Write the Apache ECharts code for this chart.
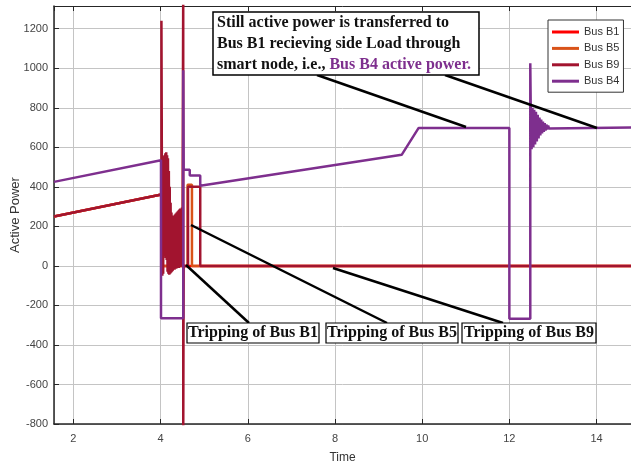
<!DOCTYPE html>
<html>
<head>
<meta charset="utf-8">
<script src="https://cdn.jsdelivr.net/npm/echarts@6/dist/echarts.min.js"></script>
<style>html,body{margin:0;padding:0;background:#fff;}#c{width:631px;height:467px;}</style>
</head>
<body>
<div id="c"></div>
<script>
// ---- data ----
var seriesNames = ['Bus B1', 'Bus B5', 'Bus B9', 'Bus B4'];
var yTicks = [-800, -600, -400, -200, 0, 200, 400, 600, 800, 1000, 1200];
var xTicks = [2, 4, 6, 8, 10, 12, 14];

var b1T = [1.556, 4.02, 4.03, 14.79];
var b1V = [250, 361, 0, 0];

var b5T = [1.556, 4.02, 4.03, 4.62, 4.62, 4.72, 4.72, 14.79];
var b5V = [250, 361, 0, 0, 410, 410, 0, 0];

var b9T = [1.556, 4.02, 4.02,
  4.03, 4.04, 4.05, 4.06, 4.07, 4.08, 4.09, 4.10, 4.11, 4.12, 4.13, 4.14, 4.15, 4.16,
  4.17, 4.18, 4.19, 4.20, 4.21, 4.22, 4.23, 4.24, 4.25, 4.26, 4.27, 4.28, 4.29, 4.30,
  4.31, 4.32, 4.33, 4.34, 4.35, 4.36, 4.37, 4.38, 4.39, 4.40, 4.41, 4.42, 4.43, 4.44,
  4.45, 4.46, 4.47, 4.48, 4.49, 4.50,
  4.52, 4.52, 4.53, 4.63, 4.63, 4.91, 4.91, 14.79];
var b9V = [250, 361, 1240,
  530, -50, 545, -40, 555, 60, 560, 50, 570, 40, 575, 30, 560, -30,
  545, -40, 480, -45, 400, -40, 320, -35, 270, -30, 255, -25, 250, -20,
  255, -20, 260, -15, 265, -15, 270, -10, 275, -10, 280, -10, 285, -5,
  290, -5, 290, 0, 295, 0,
  1400, -900, 0, 0, 400, 400, 0, 0];

var b4T = [1.556, 4.01, 4.01, 4.52, 4.52, 4.53, 4.67, 4.67, 4.91, 4.91, 9.53, 9.92,
  12.00, 12.00, 12.48, 12.48,
  12.49, 12.51, 12.53, 12.55, 12.57, 12.59, 12.61, 12.63, 12.65, 12.67, 12.69, 12.71,
  12.73, 12.75, 12.77, 12.79, 12.81, 12.83, 12.85, 12.87, 12.89, 12.91, 12.93, 12.95,
  14.79];
var b4V = [425, 535, -265, -265, 990, 486, 486, 457, 457, 406, 562, 698,
  698, -268, -268, 1025,
  800, 590, 800, 600, 790, 615, 780, 630, 765, 645, 750, 660,
  740, 670, 730, 678, 722, 685, 715, 690, 710, 695, 705, 698,
  700];

var colors = ['#ff0000', '#d95319', '#a2142f', '#7e2f8e'];

function zip(t, v) { return t.map(function (x, i) { return [x, v[i]]; }); }
var seriesData = [zip(b1T, b1V), zip(b5T, b5V), zip(b9T, b9V), zip(b4T, b4V)];

var chart = echarts.init(document.getElementById('c'));
var serif = 'Liberation Serif';
var option = {
  animation: false,
  backgroundColor: '#fff',
  grid: { left: 54, top: 6, right: 0, bottom: 43, containLabel: false, outerBoundsMode: 'none' },
  legend: {
    data: seriesNames, orient: 'vertical', left: 548, top: 20,
    icon: 'rect', itemWidth: 27, itemHeight: 3, itemGap: 2.4,
    padding: [5, 4, 4, 4], backgroundColor: '#fff', borderColor: '#333', borderWidth: 1,
    textStyle: { fontFamily: 'Liberation Sans', fontSize: 11, color: '#333', lineHeight: 14 }
  },
  xAxis: [{
    type: 'value', min: 1.556, max: 14.79, minInterval: 2, maxInterval: 2,
    name: 'Time', nameLocation: 'middle', nameGap: 28,
    nameTextStyle: { fontFamily: 'Liberation Sans', fontSize: 12, color: '#333' },
    axisLine: { show: true, onZero: false, lineStyle: { color: '#262626', width: 1.5 } },
    axisTick: { show: true, inside: true, length: 5, lineStyle: { color: '#262626' } },
    axisLabel: { fontFamily: 'Liberation Sans', fontSize: 11, color: '#444', margin: 9,
      showMinLabel: false, showMaxLabel: false,
      formatter: function (v) { return xTicks.indexOf(v) >= 0 ? String(v) : ''; } },
    splitLine: { show: true, lineStyle: { color: '#c4c4c4', width: 1 } }
  }, {
    type: 'value', min: 1.556, max: 14.79, minInterval: 2, maxInterval: 2, position: 'top',
    axisLine: { show: true, onZero: false, lineStyle: { color: '#262626', width: 1 } },
    axisTick: { show: true, inside: true, length: 5, lineStyle: { color: '#262626' } },
    axisLabel: { show: false }, splitLine: { show: false }
  }],
  yAxis: {
    type: 'value', min: -800, max: 1315, interval: 200,
    name: 'Active Power', nameLocation: 'middle', nameGap: 32, nameRotate: 90, nameMoveOverlap: false,
    nameTextStyle: { fontFamily: 'Liberation Sans', fontSize: 13, color: '#333' },
    axisLine: { show: true, onZero: false, lineStyle: { color: '#262626', width: 1.5 } },
    axisTick: { show: true, inside: true, length: 5, lineStyle: { color: '#262626' } },
    axisLabel: { fontFamily: 'Liberation Sans', fontSize: 11, color: '#444', margin: 6,
      showMaxLabel: false,
      formatter: function (v) { return yTicks.indexOf(v) >= 0 ? String(v) : ''; } },
    splitLine: { show: true, lineStyle: { color: '#c4c4c4', width: 1 } }
  },
  series: seriesNames.map(function (n, i) {
    return {
      name: n, type: 'line', data: seriesData[i], symbol: 'none', clip: true,
      lineStyle: { color: colors[i], width: 2.5 }, itemStyle: { color: colors[i] }
    };
  }),
  graphic: [
    // connector lines
    { type: 'line', z: 50, shape: { x1: 317, y1: 75, x2: 466, y2: 127 }, style: { stroke: '#000', lineWidth: 2.5 } },
    { type: 'line', z: 50, shape: { x1: 445, y1: 75, x2: 597, y2: 128 }, style: { stroke: '#000', lineWidth: 2.5 } },
    { type: 'line', z: 50, shape: { x1: 186, y1: 265, x2: 249, y2: 323 }, style: { stroke: '#000', lineWidth: 2.5 } },
    { type: 'line', z: 50, shape: { x1: 191, y1: 225, x2: 387, y2: 323 }, style: { stroke: '#000', lineWidth: 2.5 } },
    { type: 'line', z: 50, shape: { x1: 333, y1: 268, x2: 503, y2: 323 }, style: { stroke: '#000', lineWidth: 2.5 } },
    // top annotation box
    { type: 'rect', z: 60, shape: { x: 213, y: 12, width: 266, height: 63 }, style: { fill: '#fff', stroke: '#000', lineWidth: 1.5 } },
    { type: 'text', z: 61, x: 217, y: 23, style: { text: 'Still active power is transferred to', font: 'bold 16px "Liberation Serif"', fill: '#111', verticalAlign: 'middle' } },
    { type: 'text', z: 61, x: 217, y: 44, style: { text: 'Bus B1 recieving side Load through', font: 'bold 16px "Liberation Serif"', fill: '#111', verticalAlign: 'middle' } },
    { type: 'text', z: 61, x: 217, y: 65, style: {
      text: '{a|smart node, i.e., }{p|Bus B4 active power.}', verticalAlign: 'middle',
      rich: {
        a: { fontFamily: serif, fontWeight: 'bold', fontSize: 16, fill: '#111' },
        p: { fontFamily: serif, fontWeight: 'bold', fontSize: 16, fill: '#7e2f8e' }
      } } },
    // bottom boxes
    { type: 'rect', z: 60, shape: { x: 187, y: 323, width: 132, height: 20 }, style: { fill: '#fff', stroke: '#000', lineWidth: 1.2 } },
    { type: 'text', z: 61, x: 253, y: 333, style: { text: 'Tripping of Bus B1', font: 'bold 16px "Liberation Serif"', fill: '#111', align: 'center', verticalAlign: 'middle' } },
    { type: 'rect', z: 60, shape: { x: 326, y: 323, width: 132, height: 20 }, style: { fill: '#fff', stroke: '#000', lineWidth: 1.2 } },
    { type: 'text', z: 61, x: 392, y: 333, style: { text: 'Tripping of Bus B5', font: 'bold 16px "Liberation Serif"', fill: '#111', align: 'center', verticalAlign: 'middle' } },
    { type: 'rect', z: 60, shape: { x: 462, y: 323, width: 134, height: 20 }, style: { fill: '#fff', stroke: '#000', lineWidth: 1.2 } },
    { type: 'text', z: 61, x: 529, y: 333, style: { text: 'Tripping of Bus B9', font: 'bold 16px "Liberation Serif"', fill: '#111', align: 'center', verticalAlign: 'middle' } }
  ]
};
chart.setOption(option);
</script>
</body>
</html>
